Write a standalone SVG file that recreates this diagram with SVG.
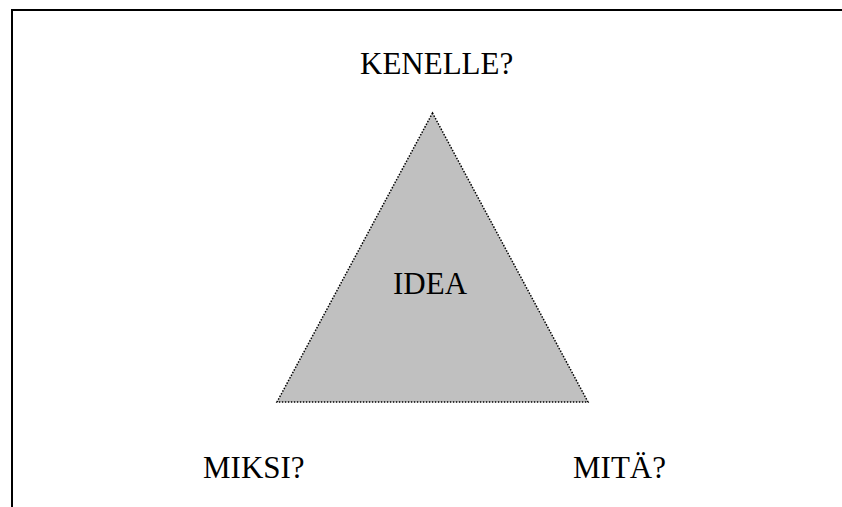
<svg xmlns="http://www.w3.org/2000/svg" width="842" height="507" viewBox="0 0 842 507">
<style>
.lbl{font-family:"Liberation Serif","Times New Roman",serif;font-size:31px;fill:#000}
.tri{fill:#c0c0c0;stroke:#000;stroke-width:1.5;stroke-dasharray:1.5 1.5}
</style>
<rect width="842" height="507" fill="#fff"/>
<path d="M12,507 V10 H842" fill="none" stroke="#000" stroke-width="2"/>
<g id="idea">
<polygon class="tri" points="432.5,113 277,402 588,402"/>
<text class="lbl" x="393" y="294">IDEA</text>
</g>
<g id="kenelle"><text class="lbl" x="360" y="74">KENELLE?</text></g>
<g id="miksi"><text class="lbl" x="203" y="478">MIKSI?</text></g>
<g id="mita"><text class="lbl" x="573" y="478">MITÄ?</text></g>
<g id="connectors"></g>
</svg>
